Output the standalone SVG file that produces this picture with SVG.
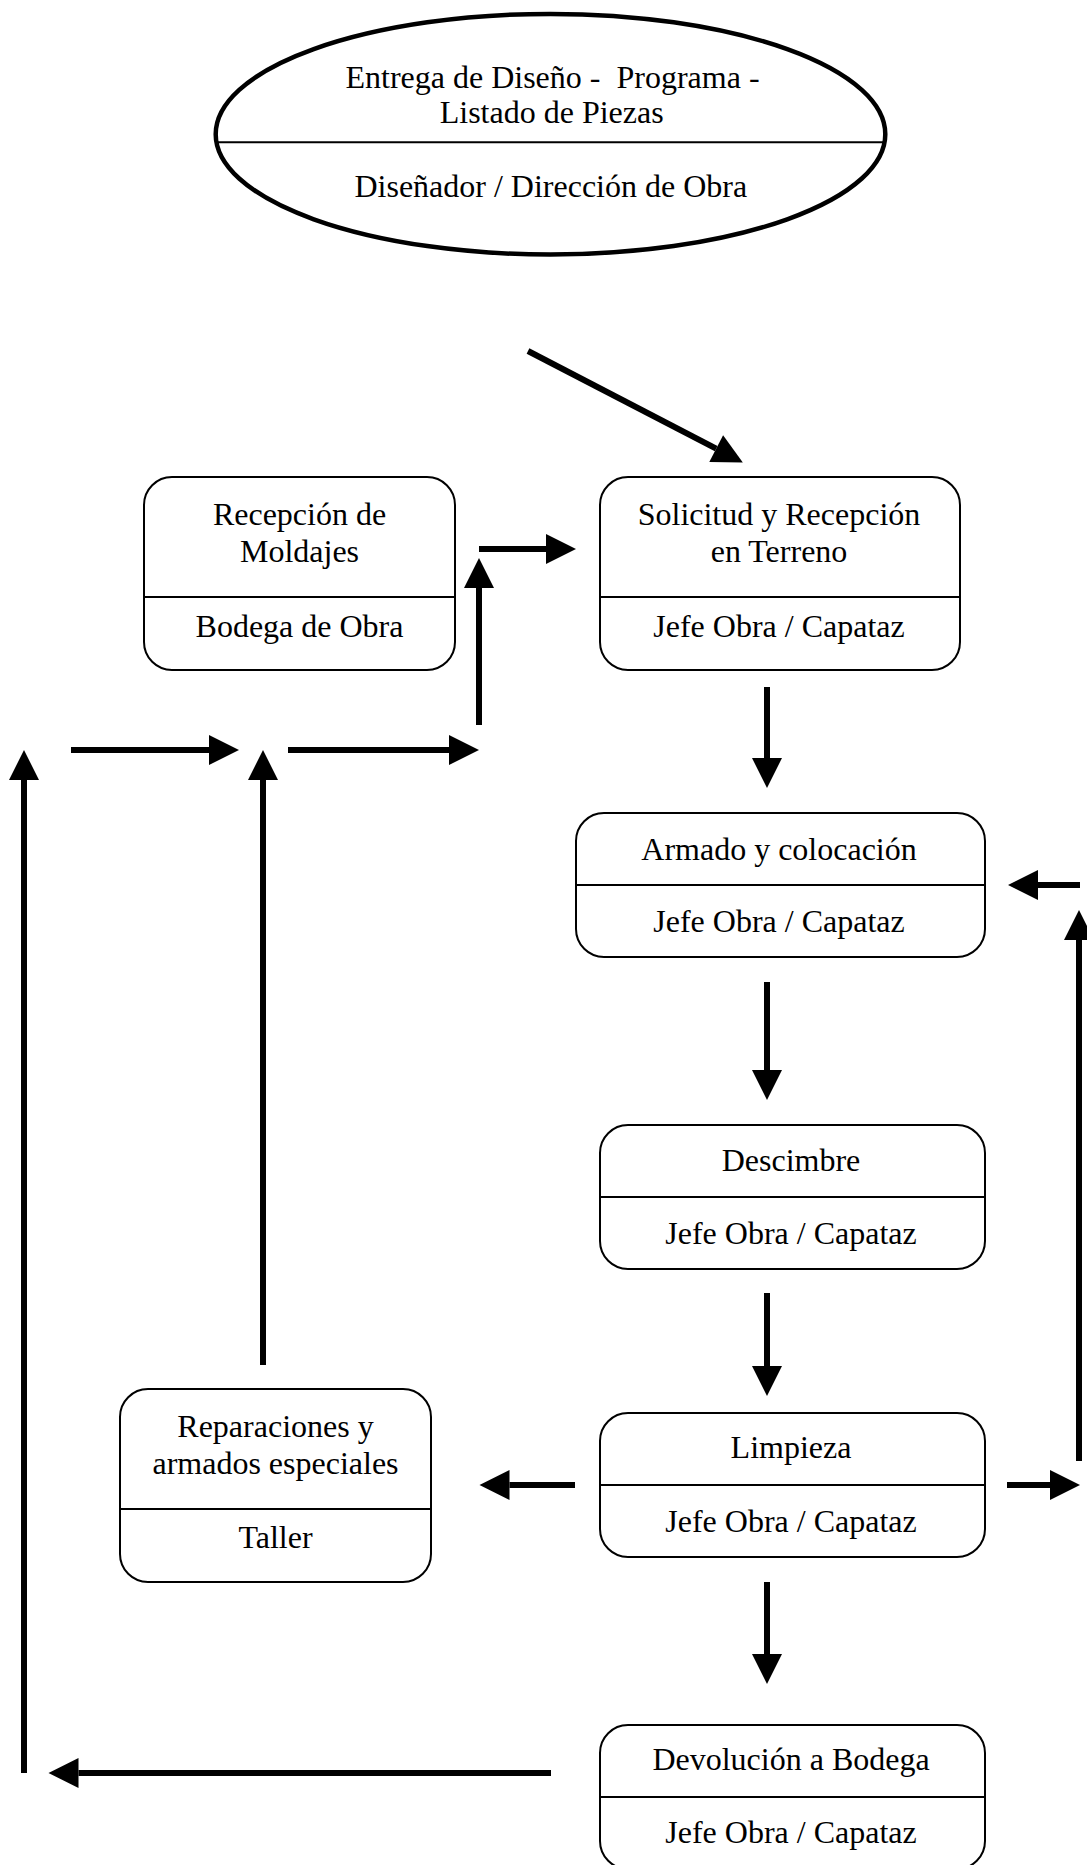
<svg xmlns="http://www.w3.org/2000/svg" width="1087" height="1865" viewBox="0 0 1087 1865">
  <style>
    .box { fill: #fff; stroke: #000; stroke-width: 2; }
    .div { stroke: #000; stroke-width: 2; }
    .lbl { font-family: "Liberation Serif", "Times New Roman", serif; font-size: 32px; fill: #000; text-anchor: middle; white-space: pre; }
    .flow { stroke: #000; stroke-width: 6; fill: none; marker-end: url(#head); }
  </style>
  <defs>
    <marker id="head" markerUnits="userSpaceOnUse" markerWidth="32" markerHeight="32" refX="0" refY="15" orient="auto" overflow="visible">
      <path d="M0,0 L30,15 L0,30 Z" fill="#000"/>
    </marker>
  </defs>
  <rect width="1087" height="1865" fill="#fff"/>

  <!-- start node: design delivery -->
  <g id="entrega">
    <ellipse cx="550.5" cy="134.2" rx="334.8" ry="120.3" fill="#fff" stroke="#000" stroke-width="4.5"/>
    <line class="div" x1="216" y1="142.3" x2="885" y2="142.3"/>
    <text class="lbl" x="552.5" y="88.3">Entrega de Diseño -  Programa -</text>
    <text class="lbl" x="551.7" y="123.3">Listado de Piezas</text>
    <text class="lbl" x="550.8" y="196.7">Diseñador / Dirección de Obra</text>
  </g>

  <g id="recepcion">
    <rect class="box" x="144" y="477" width="311" height="193" rx="28" ry="28"/>
    <line class="div" x1="144" y1="597" x2="455" y2="597"/>
    <text class="lbl" x="299.5" y="525">Recepción de</text>
    <text class="lbl" x="299.5" y="562">Moldajes</text>
    <text class="lbl" x="299.5" y="636.5">Bodega de Obra</text>
  </g>

  <g id="solicitud">
    <rect class="box" x="600" y="477" width="360" height="193" rx="28" ry="28"/>
    <line class="div" x1="600" y1="597" x2="960" y2="597"/>
    <text class="lbl" x="779" y="525">Solicitud y Recepción</text>
    <text class="lbl" x="779" y="562">en Terreno</text>
    <text class="lbl" x="779" y="636.5">Jefe Obra / Capataz</text>
  </g>

  <g id="armado">
    <rect class="box" x="576" y="813" width="409" height="144" rx="28" ry="28"/>
    <line class="div" x1="576" y1="885" x2="985" y2="885"/>
    <text class="lbl" x="779" y="859.5">Armado y colocación</text>
    <text class="lbl" x="779" y="931.7">Jefe Obra / Capataz</text>
  </g>

  <g id="descimbre">
    <rect class="box" x="600" y="1125" width="385" height="144" rx="28" ry="28"/>
    <line class="div" x1="600" y1="1197" x2="985" y2="1197"/>
    <text class="lbl" x="791" y="1170.5">Descimbre</text>
    <text class="lbl" x="791" y="1243.5">Jefe Obra / Capataz</text>
  </g>

  <g id="limpieza">
    <rect class="box" x="600" y="1413" width="385" height="144" rx="28" ry="28"/>
    <line class="div" x1="600" y1="1485" x2="985" y2="1485"/>
    <text class="lbl" x="791" y="1458.3">Limpieza</text>
    <text class="lbl" x="791" y="1531.7">Jefe Obra / Capataz</text>
  </g>

  <g id="reparaciones">
    <rect class="box" x="120" y="1389" width="311" height="193" rx="28" ry="28"/>
    <line class="div" x1="120" y1="1509" x2="431" y2="1509"/>
    <text class="lbl" x="275.5" y="1436.7">Reparaciones y</text>
    <text class="lbl" x="275.5" y="1473.7">armados especiales</text>
    <text class="lbl" x="275.5" y="1548.3">Taller</text>
  </g>

  <g id="devolucion">
    <rect class="box" x="600" y="1725" width="385" height="144" rx="28" ry="28"/>
    <line class="div" x1="600" y1="1797" x2="985" y2="1797"/>
    <text class="lbl" x="791" y="1770">Devolución a Bodega</text>
    <text class="lbl" x="791" y="1843.3">Jefe Obra / Capataz</text>
  </g>

  <!-- connectors: each line ends at the arrowhead base, the marker adds the 30px head -->
  <g id="connectors">
    <line class="flow" x1="528" y1="351" x2="716.2" y2="448.6"/>
    <line class="flow" x1="479" y1="549" x2="546" y2="549"/>
    <line class="flow" x1="479" y1="725" x2="479" y2="588"/>
    <line class="flow" x1="71" y1="750" x2="209" y2="750"/>
    <line class="flow" x1="288" y1="750" x2="449" y2="750"/>
    <line class="flow" x1="24" y1="1773" x2="24" y2="780"/>
    <line class="flow" x1="263" y1="1365" x2="263" y2="780"/>
    <line class="flow" x1="767" y1="687" x2="767" y2="758"/>
    <line class="flow" x1="767" y1="982" x2="767" y2="1070"/>
    <line class="flow" x1="767" y1="1293" x2="767" y2="1366"/>
    <line class="flow" x1="767" y1="1582" x2="767" y2="1654"/>
    <line class="flow" x1="575" y1="1485" x2="509.5" y2="1485"/>
    <line class="flow" x1="1007" y1="1485" x2="1050" y2="1485"/>
    <line class="flow" x1="1079" y1="1461" x2="1079" y2="940"/>
    <line class="flow" x1="1080" y1="885" x2="1038" y2="885"/>
    <line class="flow" x1="551" y1="1773" x2="78.5" y2="1773"/>
  </g>
</svg>
